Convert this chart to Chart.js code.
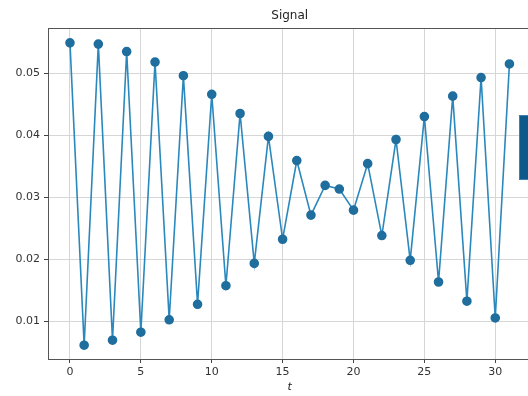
<!DOCTYPE html>
<html>
<head>
<meta charset="utf-8">
<script src="https://cdn.jsdelivr.net/npm/chart.js@4.4.0/dist/chart.umd.min.js"></script>
<style>
    html, body { margin: 0; padding: 0; background: #fff; overflow: hidden; }
    #wrap { position: relative; width: 528px; height: 396px; overflow: hidden; }
    #badge {
        position: absolute; left: 519px; top: 115px; width: 12px; height: 65px;
        background: #0b5a8b; border: 1px solid #3d7fae; box-sizing: border-box;
    }
</style>
</head>
<body>
<div id="wrap">
    <canvas id="signalChart" width="537" height="396" style="position:absolute;left:0;top:0;width:537px;height:396px"></canvas>
    <div id="badge"></div>
</div>
<script>
// Values
const tValues = [0, 1, 2, 3, 4, 5, 6, 7, 8, 9, 10, 11, 12, 13, 14, 15,
                 16, 17, 18, 19, 20, 21, 22, 23, 24, 25, 26, 27, 28, 29, 30, 31];
const signal = [0.0549, 0.0061, 0.0547, 0.0069, 0.0535, 0.0082, 0.0518, 0.0102,
                0.0496, 0.0127, 0.0466, 0.0157, 0.0435, 0.0193, 0.0398, 0.0232,
                0.0359, 0.0271, 0.0319, 0.0313, 0.0279, 0.0354, 0.0238, 0.0393,
                0.0198, 0.0430, 0.0163, 0.0463, 0.0132, 0.0493, 0.0105, 0.0515];
const xTicks = [0, 5, 10, 15, 20, 25, 30];
const yTicks = [0.01, 0.02, 0.03, 0.04, 0.05];
const titleText = 'Signal';

const font = { family: 'DejaVu Sans', size: 11 };

// top spine and a title centred on the axes, like matplotlib
const axesBox = {
    id: 'axesBox',
    afterDraw(chart) {
        let a = chart.chartArea;
        let ctx = chart.ctx;
        ctx.save();
        ctx.strokeStyle = '#555';
        ctx.lineWidth = 1;
        ctx.beginPath();
        ctx.moveTo(a.left, a.top + 0.5);
        ctx.lineTo(a.right, a.top + 0.5);
        ctx.stroke();
        ctx.fillStyle = '#222';
        ctx.font = '12px "DejaVu Sans"';
        ctx.textAlign = 'center';
        ctx.textBaseline = 'alphabetic';
        ctx.fillText(titleText, (a.left + a.right) / 2, 19);
        ctx.restore();
    }
};

new Chart(document.getElementById('signalChart').getContext('2d'), {
    type: 'line',
    data: {
        datasets: [{
            label: 'Signal',
            data: tValues.map((t, i) => ({ x: t, y: signal[i] })),
            borderColor: '#2a88bd',
            borderWidth: 1.6,
            backgroundColor: '#1f6e9e',
            pointBackgroundColor: '#1f6e9e',
            pointBorderColor: '#1f6e9e',
            pointRadius: 4,
            tension: 0,
        }]
    },
    options: {
        responsive: false,
        animation: false,
        layout: { padding: { left: 0, right: 1, top: 28, bottom: 0 } },
        plugins: {
            legend: { display: false },
            tooltip: { enabled: false },
            title: { display: false },
        },
        scales: {
            x: {
                type: 'linear',
                min: -1.55,
                max: 32.55,
                afterBuildTicks: s => { s.ticks = xTicks.map(v => ({ value: v })); },
                afterFit: s => { s.height = 37; },
                ticks: { color: '#333', font: font, padding: 3, maxRotation: 0 },
                grid: { color: '#d6d6d6', lineWidth: 1, tickLength: 4, tickColor: '#444' },
                border: { color: '#555', width: 1 },
                title: {
                    display: true,
                    text: 't',
                    color: '#222',
                    font: { family: 'DejaVu Sans', size: 11, style: 'italic' },
                    padding: { top: 0, bottom: 2 },
                },
            },
            y: {
                min: 0.00387,
                max: 0.0573,
                afterBuildTicks: s => { s.ticks = yTicks.map(v => ({ value: v })); },
                afterFit: s => { s.width = 48; },
                ticks: { color: '#333', font: font, padding: 4, callback: v => v.toFixed(2) },
                grid: { color: '#d6d6d6', lineWidth: 1, tickLength: 4, tickColor: '#444' },
                border: { color: '#555', width: 1 },
            },
        },
    },
    plugins: [axesBox],
});
</script>
</body>
</html>
